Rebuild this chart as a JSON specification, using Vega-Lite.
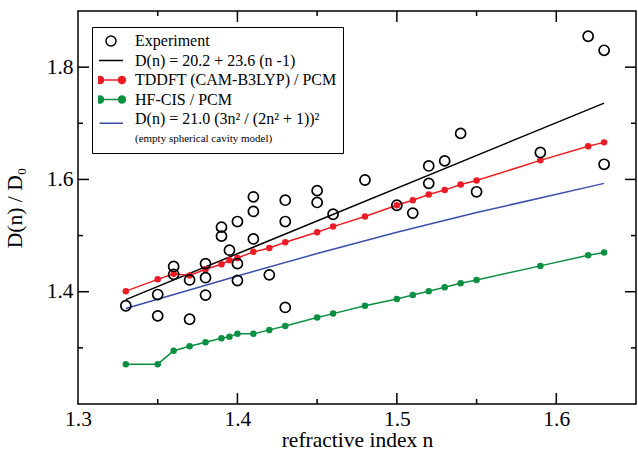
{
  "$schema": "https://vega.github.io/schema/vega-lite/v6.json",
  "width": 558,
  "height": 393,
  "autosize": {"type": "none"},
  "padding": {"left": 78, "top": 11, "right": 2, "bottom": 46},
  "background": "white",
  "config": {
    "view": {"stroke": "black", "strokeWidth": 1.5},
    "font": "Liberation Serif",
    "axis": {
      "domain": false, "grid": false, "tickColor": "black", "tickWidth": 1.5, "tickOpacity": 0,
      "labelFont": "Liberation Serif", "labelFontSize": 21.5, "labelColor": "black",
      "titleFont": "Liberation Serif", "titleFontSize": 21.5, "titleFontWeight": "normal", "titleColor": "black",
      "labelFlush": false, "labelOverlap": false, "labelBound": false
    }
  },
  "datasets": {
    "exp": [
      {"n": 1.33, "D": 1.375, "series": "Experiment"},
      {"n": 1.35, "D": 1.395, "series": "Experiment"},
      {"n": 1.35, "D": 1.357, "series": "Experiment"},
      {"n": 1.36, "D": 1.445, "series": "Experiment"},
      {"n": 1.36, "D": 1.431, "series": "Experiment"},
      {"n": 1.37, "D": 1.421, "series": "Experiment"},
      {"n": 1.37, "D": 1.351, "series": "Experiment"},
      {"n": 1.38, "D": 1.450, "series": "Experiment"},
      {"n": 1.38, "D": 1.425, "series": "Experiment"},
      {"n": 1.38, "D": 1.394, "series": "Experiment"},
      {"n": 1.39, "D": 1.515, "series": "Experiment"},
      {"n": 1.39, "D": 1.499, "series": "Experiment"},
      {"n": 1.395, "D": 1.474, "series": "Experiment"},
      {"n": 1.40, "D": 1.525, "series": "Experiment"},
      {"n": 1.40, "D": 1.450, "series": "Experiment"},
      {"n": 1.40, "D": 1.420, "series": "Experiment"},
      {"n": 1.41, "D": 1.569, "series": "Experiment"},
      {"n": 1.41, "D": 1.543, "series": "Experiment"},
      {"n": 1.41, "D": 1.494, "series": "Experiment"},
      {"n": 1.42, "D": 1.430, "series": "Experiment"},
      {"n": 1.43, "D": 1.563, "series": "Experiment"},
      {"n": 1.43, "D": 1.525, "series": "Experiment"},
      {"n": 1.43, "D": 1.372, "series": "Experiment"},
      {"n": 1.45, "D": 1.580, "series": "Experiment"},
      {"n": 1.45, "D": 1.559, "series": "Experiment"},
      {"n": 1.46, "D": 1.538, "series": "Experiment"},
      {"n": 1.48, "D": 1.599, "series": "Experiment"},
      {"n": 1.50, "D": 1.554, "series": "Experiment"},
      {"n": 1.51, "D": 1.540, "series": "Experiment"},
      {"n": 1.52, "D": 1.624, "series": "Experiment"},
      {"n": 1.52, "D": 1.593, "series": "Experiment"},
      {"n": 1.53, "D": 1.633, "series": "Experiment"},
      {"n": 1.54, "D": 1.682, "series": "Experiment"},
      {"n": 1.55, "D": 1.578, "series": "Experiment"},
      {"n": 1.59, "D": 1.648, "series": "Experiment"},
      {"n": 1.62, "D": 1.855, "series": "Experiment"},
      {"n": 1.63, "D": 1.830, "series": "Experiment"},
      {"n": 1.63, "D": 1.627, "series": "Experiment"}
    ],
    "fitLinear": [
      {"n": 1.33, "D": 1.386},
      {"n": 1.63, "D": 1.736}
    ],
    "fitCavity": [
      {"n": 1.33, "D": 1.370},
      {"n": 1.40, "D": 1.428},
      {"n": 1.45, "D": 1.468},
      {"n": 1.50, "D": 1.506},
      {"n": 1.55, "D": 1.541},
      {"n": 1.63, "D": 1.593}
    ],
    "tddft": [
      {"n": 1.33, "D": 1.401}, {"n": 1.35, "D": 1.422}, {"n": 1.36, "D": 1.432}, {"n": 1.37, "D": 1.429},
      {"n": 1.38, "D": 1.440}, {"n": 1.39, "D": 1.449}, {"n": 1.395, "D": 1.456}, {"n": 1.40, "D": 1.460},
      {"n": 1.41, "D": 1.471}, {"n": 1.42, "D": 1.478}, {"n": 1.43, "D": 1.488}, {"n": 1.45, "D": 1.506},
      {"n": 1.46, "D": 1.516}, {"n": 1.48, "D": 1.534}, {"n": 1.50, "D": 1.554}, {"n": 1.51, "D": 1.563},
      {"n": 1.52, "D": 1.573}, {"n": 1.53, "D": 1.581}, {"n": 1.54, "D": 1.591}, {"n": 1.55, "D": 1.598},
      {"n": 1.59, "D": 1.634}, {"n": 1.62, "D": 1.659}, {"n": 1.63, "D": 1.666}
    ],
    "hfcis": [
      {"n": 1.33, "D": 1.271}, {"n": 1.35, "D": 1.271}, {"n": 1.36, "D": 1.295}, {"n": 1.37, "D": 1.303},
      {"n": 1.38, "D": 1.310}, {"n": 1.39, "D": 1.317}, {"n": 1.395, "D": 1.320}, {"n": 1.40, "D": 1.325},
      {"n": 1.41, "D": 1.325}, {"n": 1.42, "D": 1.332}, {"n": 1.43, "D": 1.339}, {"n": 1.45, "D": 1.354},
      {"n": 1.46, "D": 1.361}, {"n": 1.48, "D": 1.375}, {"n": 1.50, "D": 1.387}, {"n": 1.51, "D": 1.394},
      {"n": 1.52, "D": 1.401}, {"n": 1.53, "D": 1.408}, {"n": 1.54, "D": 1.415}, {"n": 1.55, "D": 1.421},
      {"n": 1.59, "D": 1.446}, {"n": 1.62, "D": 1.465}, {"n": 1.63, "D": 1.470}
    ],
    "xticks": [
      {"n": 1.35, "kind": "minor"}, {"n": 1.4, "kind": "major"}, {"n": 1.45, "kind": "minor"},
      {"n": 1.5, "kind": "major"}, {"n": 1.55, "kind": "minor"}, {"n": 1.6, "kind": "major"}
    ],
    "yticks": [
      {"D": 1.3, "kind": "minor"}, {"D": 1.4, "kind": "major"}, {"D": 1.5, "kind": "minor"},
      {"D": 1.6, "kind": "major"}, {"D": 1.7, "kind": "minor"}, {"D": 1.8, "kind": "major"}
    ]
  },
  "layer": [
    {
      "data": {"name": "fitLinear"},
      "mark": {"type": "line", "strokeWidth": 1.5, "opacity": 1, "color": "#000000"},
      "encoding": {
        "x": {"field": "n", "type": "quantitative", "scale": {"domain": [1.3, 1.65], "nice": false, "zero": false},
              "axis": {"orient": "bottom", "title": "refractive index n", "values": [1.3, 1.4, 1.5, 1.6], "format": ".1f",
                       "tickSize": 11, "offset": -11, "labelPadding": 4,
                       "titleBaseline": "alphabetic", "titleY": 53}},
        "y": {"field": "D", "type": "quantitative", "scale": {"domain": [1.2, 1.9], "nice": false, "zero": false},
              "axis": {"orient": "left", "title": "D(n) / D₀", "values": [1.4, 1.6, 1.8], "format": ".1f",
                       "tickSize": 11, "offset": -11, "labelPadding": 5,
                       "titleBaseline": "alphabetic", "titleX": -68}}
      }
    },
    {
      "data": {"name": "fitCavity"},
      "mark": {"type": "line", "strokeWidth": 1.5, "opacity": 1, "color": "#3a4fa8"},
      "encoding": {
        "x": {"field": "n", "type": "quantitative", "axis": null},
        "y": {"field": "D", "type": "quantitative", "axis": null}
      }
    },
    {
      "data": {"name": "tddft"},
      "mark": {"type": "line", "strokeWidth": 1.5, "opacity": 1, "color": "#ed1c24", "point": {"filled": true, "size": 42, "opacity": 1, "color": "#ed1c24"}},
      "encoding": {
        "x": {"field": "n", "type": "quantitative", "axis": null},
        "y": {"field": "D", "type": "quantitative", "axis": null}
      }
    },
    {
      "data": {"name": "hfcis"},
      "mark": {"type": "line", "strokeWidth": 1.5, "opacity": 1, "color": "#0a9040", "point": {"filled": true, "size": 42, "opacity": 1, "color": "#0a9040"}},
      "encoding": {
        "x": {"field": "n", "type": "quantitative", "axis": null},
        "y": {"field": "D", "type": "quantitative", "axis": null}
      }
    },
    {
      "data": {"name": "exp"},
      "mark": {"type": "point", "size": 576, "strokeWidth": 1.7, "opacity": 1},
      "encoding": {
        "x": {"field": "n", "type": "quantitative", "axis": null},
        "y": {"field": "D", "type": "quantitative", "axis": null},
        "shape": {
          "field": "series", "type": "nominal",
          "scale": {
            "domain": ["Experiment", "D(n) = 20.2 + 23.6 (n -1)", "TDDFT (CAM-B3LYP) / PCM", "HF-CIS / PCM", "D(n) = 21.0 (3n² / (2n² + 1))²", "(empty spherical cavity model)"],
            "range": [
              "M0.42,0A0.42,0.42 0 1,1 -0.42,0A0.42,0.42 0 1,1 0.42,0Z",
              "M-1,0L1,0",
              "M-0.62,0A0.29,0.29 0 1,1 -1.2,0A0.29,0.29 0 1,1 -0.62,0Z M1.2,0A0.29,0.29 0 1,1 0.62,0A0.29,0.29 0 1,1 1.2,0Z M-0.91,0L0.91,0",
              "M-0.62,0A0.29,0.29 0 1,1 -1.2,0A0.29,0.29 0 1,1 -0.62,0Z M1.2,0A0.29,0.29 0 1,1 0.62,0A0.29,0.29 0 1,1 1.2,0Z M-0.91,0L0.91,0",
              "M-0.95,0.35L1,0.35",
              "M-1,0L1,0"
            ]
          },
          "legend": {
            "title": null, "orient": "none", "legendX": 14, "legendY": 16,
            "strokeColor": "black", "fillColor": "white", "padding": 6,
            "symbolSize": 576, "clipHeight": 16, "rowPadding": 3.5, "labelOffset": 11,
            "labelFont": "Liberation Serif", "labelFontSize": {"expr": "datum.value === '(empty spherical cavity model)' ? 11 : 16"},
            "labelColor": "black", "labelLimit": 400
          }
        },
        "fill": {
          "field": "series", "type": "nominal",
          "scale": {
            "domain": ["Experiment", "D(n) = 20.2 + 23.6 (n -1)", "TDDFT (CAM-B3LYP) / PCM", "HF-CIS / PCM", "D(n) = 21.0 (3n² / (2n² + 1))²", "(empty spherical cavity model)"],
            "range": ["transparent", "transparent", "#ed1c24", "#0a9040", "transparent", "transparent"]
          },
          "legend": {
            "title": null, "orient": "none", "legendX": 14, "legendY": 16,
            "strokeColor": "black", "fillColor": "white", "padding": 6,
            "symbolSize": 576, "clipHeight": 16, "rowPadding": 3.5, "labelOffset": 11,
            "labelFont": "Liberation Serif", "labelFontSize": {"expr": "datum.value === '(empty spherical cavity model)' ? 11 : 16"},
            "labelColor": "black", "labelLimit": 400
          }
        },
        "stroke": {
          "field": "series", "type": "nominal",
          "scale": {
            "domain": ["Experiment", "D(n) = 20.2 + 23.6 (n -1)", "TDDFT (CAM-B3LYP) / PCM", "HF-CIS / PCM", "D(n) = 21.0 (3n² / (2n² + 1))²", "(empty spherical cavity model)"],
            "range": ["#000000", "#000000", "#ed1c24", "#0a9040", "#3a4fa8", "transparent"]
          },
          "legend": {
            "title": null, "orient": "none", "legendX": 14, "legendY": 16,
            "strokeColor": "black", "fillColor": "white", "padding": 6,
            "symbolSize": 576, "clipHeight": 16, "rowPadding": 3.5, "labelOffset": 11,
            "labelFont": "Liberation Serif", "labelFontSize": {"expr": "datum.value === '(empty spherical cavity model)' ? 11 : 16"},
            "labelColor": "black", "labelLimit": 400
          }
        }
      }
    },
    {
      "data": {"name": "xticks"},
      "transform": [{"filter": "datum.kind === 'major'"}],
      "mark": {"type": "rule", "strokeWidth": 1.5, "color": "#000000", "opacity": 1, "y2Offset": -11},
      "encoding": {
        "x": {"field": "n", "type": "quantitative", "axis": null},
        "y": {"datum": 1.2, "type": "quantitative", "axis": null},
        "y2": {"datum": 1.2}
      }
    },
    {
      "data": {"name": "xticks"},
      "transform": [{"filter": "datum.kind === 'minor'"}],
      "mark": {"type": "rule", "strokeWidth": 1.5, "color": "#000000", "opacity": 1, "y2Offset": -5},
      "encoding": {
        "x": {"field": "n", "type": "quantitative", "axis": null},
        "y": {"datum": 1.2, "type": "quantitative", "axis": null},
        "y2": {"datum": 1.2}
      }
    },
    {
      "data": {"name": "xticks"},
      "transform": [{"filter": "datum.kind === 'major'"}],
      "mark": {"type": "rule", "strokeWidth": 1.5, "color": "#000000", "opacity": 1, "y2Offset": 11},
      "encoding": {
        "x": {"field": "n", "type": "quantitative", "axis": null},
        "y": {"datum": 1.9, "type": "quantitative", "axis": null},
        "y2": {"datum": 1.9}
      }
    },
    {
      "data": {"name": "xticks"},
      "transform": [{"filter": "datum.kind === 'minor'"}],
      "mark": {"type": "rule", "strokeWidth": 1.5, "color": "#000000", "opacity": 1, "y2Offset": 5},
      "encoding": {
        "x": {"field": "n", "type": "quantitative", "axis": null},
        "y": {"datum": 1.9, "type": "quantitative", "axis": null},
        "y2": {"datum": 1.9}
      }
    },
    {
      "data": {"name": "yticks"},
      "transform": [{"filter": "datum.kind === 'major'"}],
      "mark": {"type": "rule", "strokeWidth": 1.5, "color": "#000000", "opacity": 1, "x2Offset": 11},
      "encoding": {
        "y": {"field": "D", "type": "quantitative", "axis": null},
        "x": {"datum": 1.3, "type": "quantitative", "axis": null},
        "x2": {"datum": 1.3}
      }
    },
    {
      "data": {"name": "yticks"},
      "transform": [{"filter": "datum.kind === 'minor'"}],
      "mark": {"type": "rule", "strokeWidth": 1.5, "color": "#000000", "opacity": 1, "x2Offset": 5},
      "encoding": {
        "y": {"field": "D", "type": "quantitative", "axis": null},
        "x": {"datum": 1.3, "type": "quantitative", "axis": null},
        "x2": {"datum": 1.3}
      }
    },
    {
      "data": {"name": "yticks"},
      "transform": [{"filter": "datum.kind === 'major'"}],
      "mark": {"type": "rule", "strokeWidth": 1.5, "color": "#000000", "opacity": 1, "x2Offset": -11},
      "encoding": {
        "y": {"field": "D", "type": "quantitative", "axis": null},
        "x": {"datum": 1.65, "type": "quantitative", "axis": null},
        "x2": {"datum": 1.65}
      }
    },
    {
      "data": {"name": "yticks"},
      "transform": [{"filter": "datum.kind === 'minor'"}],
      "mark": {"type": "rule", "strokeWidth": 1.5, "color": "#000000", "opacity": 1, "x2Offset": -5},
      "encoding": {
        "y": {"field": "D", "type": "quantitative", "axis": null},
        "x": {"datum": 1.65, "type": "quantitative", "axis": null},
        "x2": {"datum": 1.65}
      }
    }
  ],
  "resolve": {"axis": {"x": "independent", "y": "independent"}}
}
